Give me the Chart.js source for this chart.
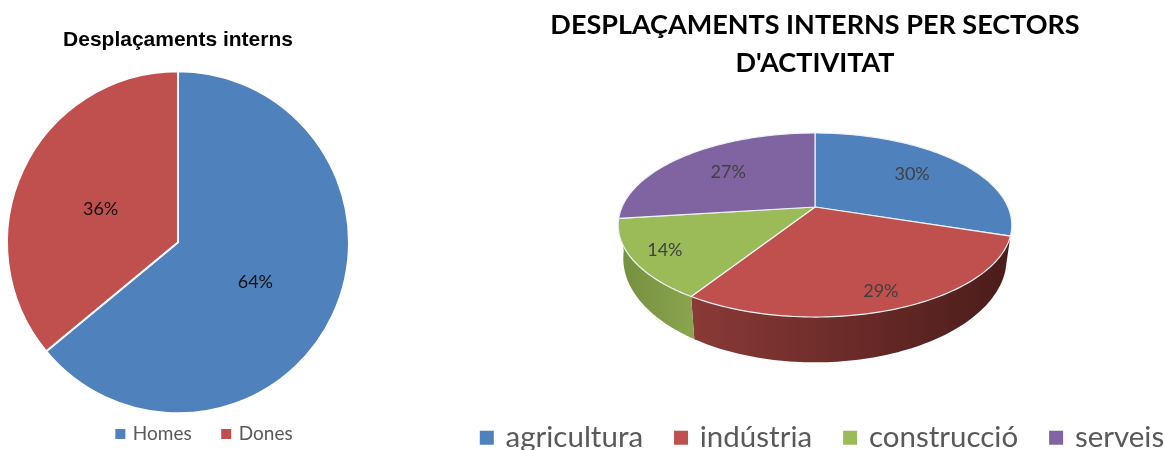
<!DOCTYPE html>
<html><head><meta charset="utf-8">
<style>
html,body{margin:0;padding:0;background:#fff;width:1165px;height:450px;overflow:hidden}
canvas{position:absolute;top:0}
#a{left:0;filter:blur(.3px)}
#b{left:435px;filter:blur(.7px)}
</style>
<script src="https://cdn.jsdelivr.net/npm/chart.js@4"></script>
</head><body>
<canvas id="a" width="356" height="450"></canvas>
<canvas id="b" width="760" height="450"></canvas>
<script>
const genderLabels = ['Homes', 'Dones'];
const genderValues = [64, 36];
const genderColors = ['#4f81bd', '#c0504d'];
const sectorLabels = ['agricultura', 'indústria', 'construcció', 'serveis'];
const sectorValues = [30, 29, 14, 27];
const sectorColors = ['#4f81bd', '#c0504d', '#9bbb59', '#8064a2'];
const sectorWalls = [null, ['#8a3a37', '#4a1c1a'], ['#8aa44f', '#748f3e'], null];
const sectorLabelRadius = [0.67, 0.85, 0.84, 0.65];

Chart.defaults.animation = false;
Chart.defaults.responsive = false;

function placeLegend(chart, dx, itemTop, padding) {
  chart.legend.left += dx; chart.legend.right += dx;
  const h = chart.legend.height;
  chart.legend.top = itemTop - padding; chart.legend.bottom = chart.legend.top + h;
}
// Legend swatches: a small box plus a same-colour stroke keeps the text close to the swatch.
function swatches(lineWidth) {
  return chart => Chart.overrides.pie.plugins.legend.labels.generateLabels(chart)
    .map(l => Object.assign(l, { strokeStyle: l.fillStyle, lineWidth }));
}

const pctLabels = {
  id: 'pctLabels',
  afterDatasetsDraw(chart) {
    const ctx = chart.ctx, arcs = chart.getDatasetMeta(0).data;
    ctx.save();
    ctx.font = '18px Lato'; ctx.fillStyle = '#111';
    ctx.textAlign = 'center'; ctx.textBaseline = 'middle';
    arcs.forEach((arc, i) => {
      const p = arc.getCenterPoint();
      ctx.fillText(genderValues[i] + '%', p.x, p.y + 3);
    });
    ctx.restore();
  },
  afterLayout(chart) { placeLegend(chart, 27, 424.5, 31.5); }
};

new Chart(document.getElementById('a'), {
  type: 'pie',
  data: { labels: genderLabels, datasets: [{ data: genderValues, backgroundColor: genderColors, borderColor: '#fff', borderWidth: 2 }] },
  options: {
    radius: 171,
    plugins: {
      tooltip: { enabled: false },
      title: { display: true, text: 'Desplaçaments interns', color: '#000', font: { family: 'Liberation Sans', size: 21, weight: 'bold' }, padding: { top: 28, bottom: 42 } },
      legend: { position: 'bottom', labels: { boxWidth: 6, boxHeight: 6, padding: 31.5, color: '#595959', font: { family: 'Lato', size: 19 }, generateLabels: swatches(4) } }
    }
  },
  plugins: [pctLabels]
});

// Perspective projection of the flat pie: the library supplies each arc's centre and angles.
const apexY = 207, persp = 0.1957;
const topFace = { a: 193, b: 88.5, c: 0 }, baseFace = { a: 188, b: 100, c: 31 };
function proj(face, cx, u, v) {
  const d = 1 - persp * v;
  return [cx + face.a * u / d, apexY + face.c + face.b * v / d];
}
function rim(face, cx, s, e) {
  const pts = [], n = 80;
  for (let i = 0; i <= n; i++) {
    const t = s + (e - s) * i / n;
    pts.push(proj(face, cx, Math.cos(t), Math.sin(t)));
  }
  return pts;
}
const pie3d = {
  id: 'pie3d',
  beforeDatasetsDraw(chart) {
    const ctx = chart.ctx, arcs = chart.getDatasetMeta(0).data;
    arcs.forEach((arc, i) => {
      if (!sectorWalls[i]) return;
      const top = rim(topFace, arc.x, arc.startAngle, arc.endAngle);
      const base = rim(baseFace, arc.x, arc.startAngle, arc.endAngle).reverse();
      const xs = top.concat(base).map(p => p[0]);
      const g = ctx.createLinearGradient(Math.min(...xs), 0, Math.max(...xs), 0);
      const wallL = i === 1 ? sectorWalls[i][0] : sectorWalls[i][1];
      const wallR = i === 1 ? sectorWalls[i][1] : sectorWalls[i][0];
      g.addColorStop(0, wallL); g.addColorStop(1, wallR);
      ctx.beginPath();
      top.concat(base).forEach((p, k) => k ? ctx.lineTo(p[0], p[1]) : ctx.moveTo(p[0], p[1]));
      ctx.closePath(); ctx.fillStyle = g; ctx.fill();
    });
    arcs.forEach((arc, i) => {
      const pts = rim(topFace, arc.x, arc.startAngle, arc.endAngle);
      ctx.beginPath(); ctx.moveTo(arc.x, apexY);
      pts.forEach(p => ctx.lineTo(p[0], p[1]));
      ctx.closePath();
      ctx.fillStyle = sectorColors[i]; ctx.fill();
      ctx.strokeStyle = '#eef2f6'; ctx.lineWidth = 1.2; ctx.stroke();
    });
    ctx.save();
    ctx.font = '18px Lato'; ctx.fillStyle = '#404040';
    ctx.textAlign = 'center'; ctx.textBaseline = 'middle';
    arcs.forEach((arc, i) => {
      const m = (arc.startAngle + arc.endAngle) / 2, r = sectorLabelRadius[i];
      const p = proj(topFace, arc.x, r * Math.cos(m), r * Math.sin(m));
      ctx.fillText(sectorValues[i] + '%', p[0], p[1]);
    });
    ctx.restore();
    return false;
  },
  afterLayout(chart) { placeLegend(chart, 8.5, 423, 34); }
};

new Chart(document.getElementById('b'), {
  type: 'pie',
  data: { labels: sectorLabels, datasets: [{ data: sectorValues, backgroundColor: sectorColors, borderWidth: 0 }] },
  options: {
    plugins: {
      tooltip: { enabled: false },
      title: { display: true, text: ['DESPLAÇAMENTS INTERNS PER SECTORS', "D'ACTIVITAT"], color: '#000', font: { family: 'Lato', size: 27, weight: 'bold', lineHeight: 1.41 }, padding: { top: 6, bottom: 10 } },
      legend: { position: 'bottom', labels: { boxWidth: 8, boxHeight: 8, padding: 34, color: '#595959', font: { family: 'Lato', size: 29.5 }, generateLabels: swatches(6) } }
    }
  },
  plugins: [pie3d]
});
</script>
</body></html>
